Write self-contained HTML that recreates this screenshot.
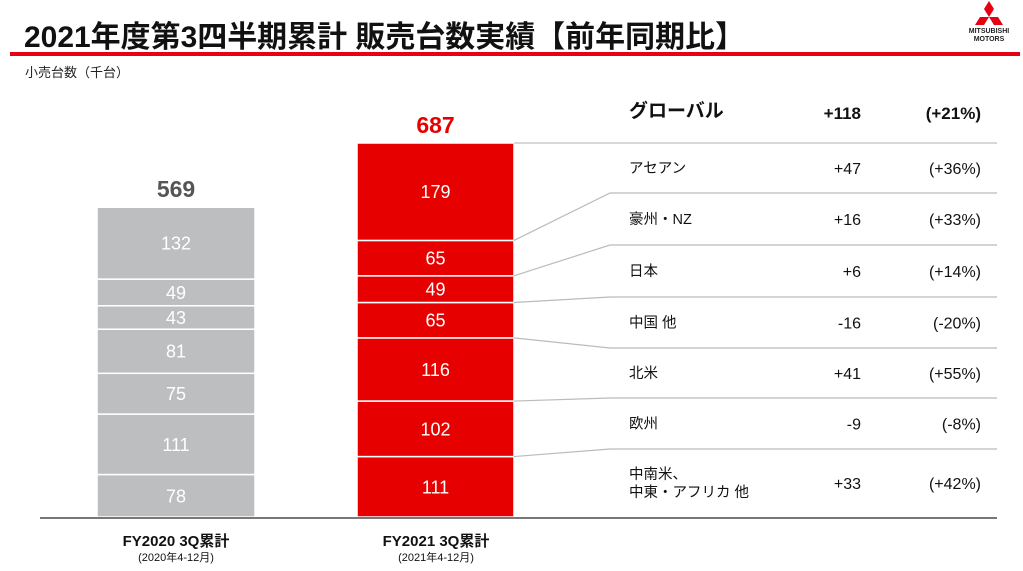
<!DOCTYPE html>
<html><head><meta charset="utf-8"><style>
body{margin:0;background:#fff;width:1023px;height:571px;overflow:hidden;font-family:"Liberation Sans","Noto Sans CJK JP",sans-serif}
svg{display:block}
</style></head><body>
<svg id="chart" width="1023" height="571" viewBox="0 0 1023 571">
<text x="24" y="47" font-size="30" font-weight="bold" fill="#111" textLength="721" lengthAdjust="spacingAndGlyphs" style="font-family:'Liberation Sans','Noto Sans CJK JP',sans-serif">2021年度第3四半期累計 販売台数実績【前年同期比】</text>
<rect x="10" y="52" width="1010" height="4" fill="#e60012"/>
<g>
<polygon points="989,1 994,9 989,17 984,9" fill="#e60012"/>
<polygon points="989,17 980,17 975,25 984,25" fill="#e60012"/>
<polygon points="989,17 998,17 1003,25 994,25" fill="#e60012"/>
<text x="989" y="33" font-size="7" font-weight="bold" text-anchor="middle" fill="#222">MITSUBISHI</text>
<text x="989" y="41" font-size="7" font-weight="bold" text-anchor="middle" fill="#222">MOTORS</text>
</g>
<text x="25" y="77" font-size="13" fill="#222">小売台数（千台）</text>
<g id="bars"></g>
<g id="table"></g>
<line x1="40" y1="518" x2="997" y2="518" stroke="#777" stroke-width="2"/>
<text x="176" y="546" font-size="15" font-weight="bold" text-anchor="middle" fill="#111">FY2020 3Q累計</text>
<text x="176" y="561" font-size="11" text-anchor="middle" fill="#111">(2020年4-12月)</text>
<text x="436" y="546" font-size="15" font-weight="bold" text-anchor="middle" fill="#111">FY2021 3Q累計</text>
<text x="436" y="561" font-size="11" text-anchor="middle" fill="#111">(2021年4-12月)</text>
</svg>
<script>
// bottom-to-top segments
const regions = ["中南米、中東・アフリカ他","欧州","北米","中国他","日本","豪州・NZ","アセアン"];
const fy2020 = [78,111,75,81,43,49,132];
const fy2021 = [111,102,116,65,49,65,179];
const totals = [569,687];
// table rows top-to-bottom
const rowLabels = [["アセアン"],["豪州・NZ"],["日本"],["中国 他"],["北米"],["欧州"],["中南米、","中東・アフリカ 他"]];
const rowDelta = ["+47","+16","+6","-16","+41","-9","+33"];
const rowPct = ["(+36%)","(+33%)","(+14%)","(-20%)","(+55%)","(-8%)","(+42%)"];
const globalDelta = "+118", globalPct = "(+21%)";

const NS="http://www.w3.org/2000/svg";
const base=517, scale=(517-143)/687;
const y=v=>base-v*scale;
function mk(tag,attrs,parent){const e=document.createElementNS(NS,tag);for(const k in attrs)e.setAttribute(k,attrs[k]);parent.appendChild(e);return e;}
const bars=document.getElementById('bars');
const series=[{vals:fy2020,x:97,w:158,fill:"#bcbec0",tot:"#555",name:"fy2020"},{vals:fy2021,x:357,w:157,fill:"#e60000",tot:"#e60000",name:"fy2021"}];
const redBounds=[];
series.forEach((s,si)=>{
  let cum=0;
  s.vals.forEach((v,i)=>{
    const y0=y(cum), y1=y(cum+v);
    const r=mk('rect',{x:s.x,y:y1,width:s.w,height:y0-y1,fill:s.fill,stroke:"#fff","stroke-width":1.5},bars);
    
    
    const t=mk('text',{x:s.x+s.w/2,y:(y0+y1)/2+6.5,"font-size":18,"text-anchor":"middle",fill:"#fff"},bars);
    t.textContent=v;
    
    
    cum+=v;
    if(si===1) redBounds.push(y(cum));
  });
  const tt=mk('text',{x:s.x+s.w/2,y:y(cum)-10,"font-size":23,"font-weight":"bold","text-anchor":"middle",fill:s.tot},bars);
  tt.textContent=totals[si];
  
  
});
// table
const tb=document.getElementById('table');
const seps=[143,193,245,297,348,398,449];
const rowBottoms=[193,245,297,348,398,449,517];
let l=mk('line',{x1:514,y1:143,x2:997,y2:143,stroke:"#ccc","stroke-width":1.5},tb);


const rb=redBounds.slice(0,-1).reverse();
for(let i=1;i<7;i++){
  const p=mk('polyline',{points:`514,${rb[i-1]} 610,${seps[i]} 997,${seps[i]}`,fill:"none",stroke:"#bbb","stroke-width":1.2},tb);
  
  
}
let g=mk('text',{x:629,y:117,"font-size":19,"font-weight":"bold",fill:"#111"},tb);g.textContent="グローバル";

g=mk('text',{x:861,y:119,"font-size":17,"font-weight":"bold","text-anchor":"end",fill:"#111"},tb);g.textContent=globalDelta;

g=mk('text',{x:981,y:119,"font-size":17,"font-weight":"bold","text-anchor":"end",fill:"#111"},tb);g.textContent=globalPct;

rowLabels.forEach((lab,i)=>{
  const top=seps[i], bot=rowBottoms[i], mid=(top+bot)/2;
  lab.forEach((s,j)=>{
    const t=mk('text',{x:629,y:mid+5+(lab.length>1?(j-0.5)*18:0),"font-size":14.5,fill:"#111"},tb);
    t.textContent=s;
    
    
  });
  const d=mk('text',{x:861,y:mid+6,"font-size":16,"text-anchor":"end",fill:"#111"},tb);
  d.textContent=rowDelta[i];
  
  
  const p=mk('text',{x:981,y:mid+6,"font-size":16,"text-anchor":"end",fill:"#111"},tb);
  p.textContent=rowPct[i];
  
  
});
</script>
</body></html>
